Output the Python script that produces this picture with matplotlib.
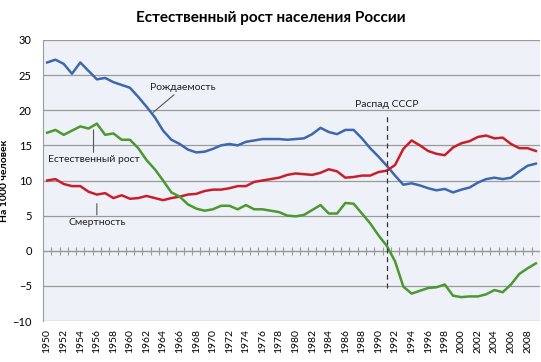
import matplotlib
matplotlib.use("Agg")
import matplotlib.pyplot as plt
import numpy as np

years = list(range(1950, 2010))
birth = [26.8, 27.2, 26.6, 25.2, 26.8, 25.6, 24.4, 24.6, 24.0, 23.6,
         23.2, 21.9, 20.5, 19.0, 17.1, 15.8, 15.2, 14.4, 14.0, 14.1,
         14.5, 15.0, 15.2, 15.0, 15.5, 15.7, 15.9, 15.9, 15.9, 15.8,
         15.9, 16.0, 16.6, 17.5, 16.9, 16.6, 17.2, 17.2, 16.0, 14.6,
         13.4, 12.1, 10.7, 9.4, 9.6, 9.3, 8.9, 8.6, 8.8, 8.3,
         8.7, 9.0, 9.7, 10.2, 10.4, 10.2, 10.4, 11.3, 12.1, 12.4]
death = [10.0, 10.2, 9.5, 9.2, 9.2, 8.4, 8.0, 8.2, 7.5, 7.9,
         7.4, 7.5, 7.8, 7.5, 7.2, 7.5, 7.7, 8.0, 8.1, 8.5,
         8.7, 8.7, 8.9, 9.2, 9.2, 9.8, 10.0, 10.2, 10.4, 10.8,
         11.0, 10.9, 10.8, 11.1, 11.6, 11.3, 10.4, 10.5, 10.7, 10.7,
         11.2, 11.4, 12.2, 14.5, 15.7, 15.0, 14.2, 13.8, 13.6, 14.7,
         15.3, 15.6, 16.2, 16.4, 16.0, 16.1, 15.2, 14.6, 14.6, 14.2]
growth = [16.8, 17.2, 16.5, 17.1, 17.7, 17.4, 18.1, 16.5, 16.7, 15.8,
          15.8, 14.6, 12.9, 11.6, 10.0, 8.3, 7.7, 6.6, 6.0, 5.7,
          5.9, 6.4, 6.4, 5.9, 6.5, 5.9, 5.9, 5.7, 5.5, 5.0,
          4.9, 5.1, 5.8, 6.5, 5.3, 5.3, 6.8, 6.7, 5.3, 3.9,
          2.2, 0.7, -1.5, -5.1, -6.1, -5.7, -5.3, -5.2, -4.8, -6.4,
          -6.6, -6.5, -6.5, -6.2, -5.6, -5.9, -4.8, -3.3, -2.5, -1.8]
tick_years = list(range(1950, 2010, 2))

plt.rcParams['font.family'] = ['Lato', 'DejaVu Sans']

fig = plt.figure(figsize=(5.41, 3.62), dpi=100)
ax = fig.add_axes([43/541, 1-321/362, 497/541, 281/362])
ax.set_facecolor('#eef1f8')

blue = '#3d68ad'
red = '#c8202b'
green = '#4a9a30'

ax.set_ylim(-10, 30)
ax.set_xlim(1949.5, 2009.5)
ax.set_yticks(range(-10, 31, 5))
ax.yaxis.grid(True, color='#9a9a9a', linewidth=0.9)
ax.set_axisbelow(True)
for s in ['top', 'right', 'bottom']:
    ax.spines[s].set_visible(False)
ax.spines['left'].set_color('#9a9a9a')
ax.tick_params(axis='y', length=0, labelsize=8, pad=8)
ax.set_xticks(tick_years)
ax.set_xticklabels([str(y) for y in tick_years], rotation=90, fontsize=7.5)
ax.tick_params(axis='x', length=0, pad=6)

ax.axhline(0, color='#9a9a9a', linewidth=0.9)
sec = ax.secondary_xaxis(0.25)
sec.set_xticks([y + 0.5 for y in years[:-1]])
sec.set_xticklabels([])
sec.tick_params(direction='inout', length=6, color='#9a9a9a', width=0.8)
sec.spines['bottom'].set_visible(False)

ax.plot(years, birth, color=blue, linewidth=1.8, zorder=3)
ax.plot(years, death, color=red, linewidth=1.8, zorder=3)
ax.plot(years, growth, color=green, linewidth=1.8, zorder=3)

ax.plot([1991, 1991], [-5.3, 19.6], color='#333333', linestyle=(0, (4, 3)), linewidth=0.9, zorder=4)
ax.text(1991, 20.2, 'Распад СССР', ha='center', va='bottom', fontsize=7.5, color='#222222')

ax.annotate('Рождаемость', xy=(1962.8, 19.7), xytext=(1962.4, 22.6),
            fontsize=7.5, color='#222222', ha='left', va='bottom',
            arrowprops=dict(arrowstyle='-', color='#555555', lw=0.8, shrinkA=0, shrinkB=0))
ax.annotate('Естественный рост', xy=(1955.6, 17.2), xytext=(1955.6, 13.6),
            fontsize=7.5, color='#222222', ha='center', va='top',
            arrowprops=dict(arrowstyle='-', color='#555555', lw=0.8, shrinkA=0, shrinkB=0))
ax.annotate('Смертность', xy=(1956.0, 6.7), xytext=(1956.0, 4.7),
            fontsize=7.5, color='#222222', ha='center', va='top',
            arrowprops=dict(arrowstyle='-', color='#555555', lw=0.8, shrinkA=0, shrinkB=0))

ax.set_ylabel('На 1000 человек', fontsize=7.5, fontweight='bold')
ax.yaxis.set_label_coords(-(43 - 9) / 497, 0.5)
fig.text(0.5, 1-18/362, 'Естественный рост населения России', ha='center', va='center',
         fontsize=11, fontweight='bold')

fig.savefig('out.png', dpi=100, facecolor='white')
